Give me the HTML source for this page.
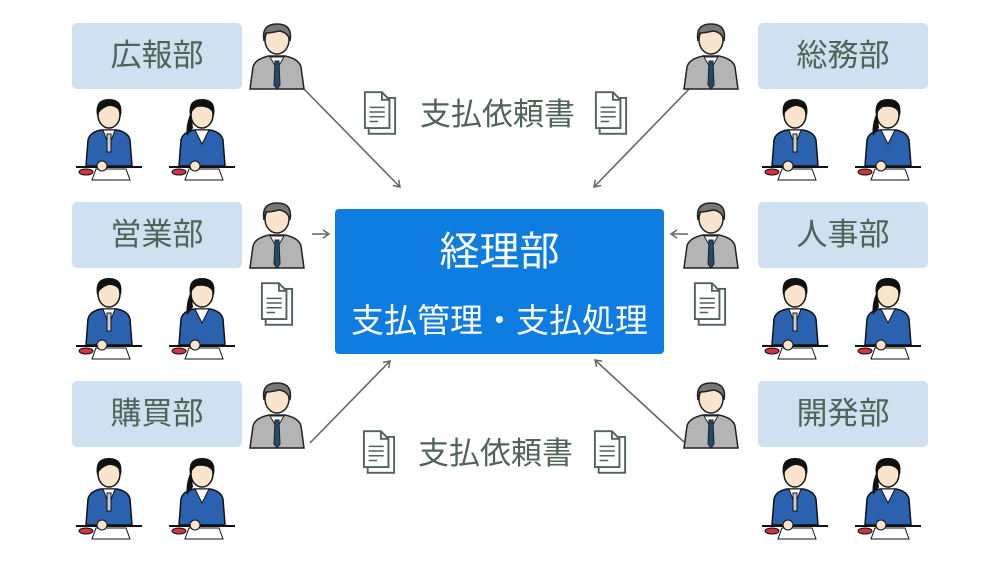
<!DOCTYPE html>
<html><head><meta charset="utf-8"><style>
body{margin:0;background:#fff;width:1000px;height:563px;overflow:hidden;position:relative;font-family:"Liberation Sans","Noto Sans CJK JP",sans-serif}
.d{position:absolute;width:170px;height:66px;background:#cfe0f1;border-radius:5px;color:#4f6357;font-size:31px;text-align:center;line-height:66px}
.t{position:absolute;color:#4f6357;font-size:31px;line-height:34px}
#c{position:absolute;left:335px;top:209px;width:329px;height:145px;background:#0e7ce0;border-radius:4px;color:#fff;text-align:center}
svg{position:absolute;left:0;top:0}
</style></head><body>
<div class="d" style="left:72px;top:23px">広報部</div>
<div class="d" style="left:72px;top:202px">営業部</div>
<div class="d" style="left:72px;top:381px">購買部</div>
<div class="d" style="left:758px;top:23px">総務部</div>
<div class="d" style="left:758px;top:202px">人事部</div>
<div class="d" style="left:758px;top:381px">開発部</div>
<div class="t" style="left:420px;top:98px">支払依頼書</div>
<div class="t" style="left:418px;top:437px">支払依頼書</div>
<div id="c"><div style="font-size:40px;margin-top:20px;line-height:46px">経理部</div><div style="font-size:33px;margin-top:27px;line-height:38px">支払管理・支払処理</div></div>
<svg width="1000" height="563" viewBox="0 0 1000 563">
<defs>
<marker id="a" markerWidth="10" markerHeight="10" refX="8" refY="5" orient="auto" markerUnits="userSpaceOnUse"><path d="M2,1 L8,5 L2,9" fill="none" stroke="#666" stroke-width="1.5"/></marker>
<symbol id="doc" viewBox="0 0 36 48"><rect x="6" y="8" width="28" height="38" fill="#fff" stroke="#4f6357" stroke-width="2"/><path d="M2,2 H20 L28,10 V40 H2 Z" fill="#fff" stroke="#4f6357" stroke-width="2"/><path d="M20,2 V10 H28" fill="none" stroke="#4f6357" stroke-width="2"/><path d="M7,18 H23 M7,23 H23 M7,28 H23 M7,33 H16" stroke="#4f6357" stroke-width="1.6"/></symbol>
<symbol id="boss" viewBox="0 0 60 70"><path d="M3,68 L6,46 Q8,38 22,35 L38,35 Q52,38 54,46 L57,68 Z" fill="#b4b4b4" stroke="#222" stroke-width="1.5"/><path d="M23,36 L30,48 L37,36 Z" fill="#fff" stroke="#222"/><path d="M28,40 L32,40 L33,64 L30,68 L27,64 Z" fill="#1f4c6b" stroke="#222"/><ellipse cx="30" cy="19" rx="12" ry="14" fill="#fbe4cc" stroke="#222" stroke-width="1.5"/><path d="M17,20 Q14,3 30,3 Q46,3 43,20 Q41,11 32,10 Q24,12 19,12 Z" fill="#777" stroke="#222" stroke-width="1.5"/></symbol>
<symbol id="man" viewBox="0 0 70 90"><path d="M12,74 L14,48 Q16,40 27,38 L43,38 Q54,40 56,48 L58,74 Z" fill="#2b62b0" stroke="#111" stroke-width="1.5"/><path d="M29,38 L35,54 L41,38 Z" fill="#fff" stroke="#111"/><path d="M33,42 L37,42 L37,60 L33,60 Z" fill="#ccc" stroke="#111"/><ellipse cx="35" cy="23" rx="11" ry="13" fill="#fbe4cc" stroke="#111" stroke-width="1.5"/><path d="M23,24 Q20,7 35,7 Q50,7 47,24 Q45,14 35,14 Q27,16 23,24 Z" fill="#111"/><path d="M2,75 H68" stroke="#111" stroke-width="2"/><path d="M22,77 L52,77 L56,88 L18,88 Z" fill="#fff" stroke="#111"/><ellipse cx="12" cy="80" rx="7" ry="3" fill="#d2343f" stroke="#111"/><circle cx="28" cy="74" r="5" fill="#fbe4cc" stroke="#111"/></symbol>
<symbol id="woman" viewBox="0 0 70 90"><path d="M12,74 L14,48 Q16,40 27,38 L43,38 Q54,40 56,48 L58,74 Z" fill="#2b62b0" stroke="#111" stroke-width="1.5"/><path d="M28,38 L35,52 L42,38 Z" fill="#fff" stroke="#111"/><path d="M24,20 Q18,34 20,44 L26,36 Z" fill="#111"/><ellipse cx="35" cy="23" rx="11" ry="13" fill="#fbe4cc" stroke="#111" stroke-width="1.5"/><path d="M23,24 Q20,7 35,7 Q50,7 47,24 Q44,13 30,15 Q25,18 23,24 Z" fill="#111"/><path d="M2,75 H68" stroke="#111" stroke-width="2"/><path d="M22,77 L52,77 L56,88 L18,88 Z" fill="#fff" stroke="#111"/><ellipse cx="12" cy="80" rx="7" ry="3" fill="#d2343f" stroke="#111"/><circle cx="28" cy="74" r="5" fill="#fbe4cc" stroke="#111"/></symbol>
</defs>
<g stroke="#666" stroke-width="1.6" fill="none" marker-end="url(#a)">
<line x1="303" y1="88" x2="400" y2="187"/>
<line x1="690" y1="88" x2="594" y2="187"/>
<line x1="312" y1="234" x2="329" y2="234"/>
<line x1="688" y1="234" x2="671" y2="234"/>
<line x1="310" y1="443" x2="390" y2="361"/>
<line x1="684" y1="442" x2="595" y2="360"/>
</g>
<use href="#doc" x="363" y="90" width="34" height="46"/>
<use href="#doc" x="594" y="90" width="34" height="46"/>
<use href="#doc" x="362" y="429" width="34" height="46"/>
<use href="#doc" x="593" y="429" width="34" height="46"/>
<use href="#doc" x="260" y="281" width="34" height="46"/>
<use href="#doc" x="693" y="281" width="34" height="46"/>
<use href="#boss" x="247" y="21" width="60" height="70"/>
<use href="#boss" x="247" y="200" width="60" height="70"/>
<use href="#boss" x="247" y="380" width="60" height="70"/>
<use href="#boss" x="681" y="21" width="60" height="70"/>
<use href="#boss" x="681" y="200" width="60" height="70"/>
<use href="#boss" x="681" y="380" width="60" height="70"/>
<use href="#man" x="74" y="92" width="70" height="90"/>
<use href="#woman" x="167" y="92" width="70" height="90"/>
<use href="#man" x="74" y="271" width="70" height="90"/>
<use href="#woman" x="167" y="271" width="70" height="90"/>
<use href="#man" x="74" y="451" width="70" height="90"/>
<use href="#woman" x="167" y="451" width="70" height="90"/>
<use href="#man" x="760" y="92" width="70" height="90"/>
<use href="#woman" x="853" y="92" width="70" height="90"/>
<use href="#man" x="760" y="271" width="70" height="90"/>
<use href="#woman" x="853" y="271" width="70" height="90"/>
<use href="#man" x="760" y="451" width="70" height="90"/>
<use href="#woman" x="853" y="451" width="70" height="90"/>
</svg>
</body></html>
